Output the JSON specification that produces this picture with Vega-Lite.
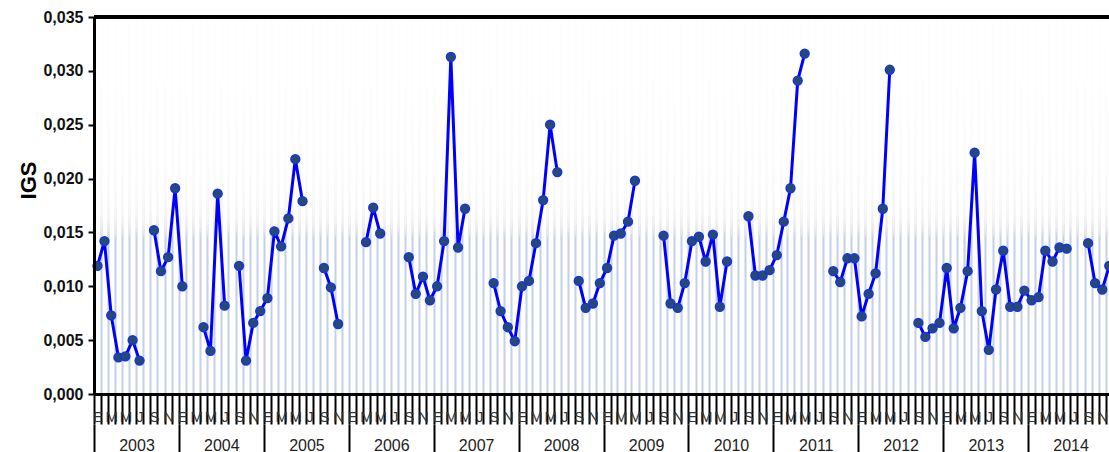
{
  "$schema": "https://vega.github.io/schema/vega-lite/v6.json",
  "width": 1015,
  "height": 377,
  "autosize": {"type": "none"},
  "padding": {"left": 94, "top": 17, "right": 0, "bottom": 58},
  "config": {
    "font": "Liberation Sans",
    "view": {"stroke": null}
  },
  "data": {
    "values": [
      {"fecha": "2003-01-16", "igs": 0.0119}, {"fecha": "2003-02-15", "igs": 0.0142}, {"fecha": "2003-03-16", "igs": 0.0073}, {"fecha": "2003-04-16", "igs": 0.0034},
      {"fecha": "2003-05-16", "igs": 0.0035}, {"fecha": "2003-06-16", "igs": 0.0050}, {"fecha": "2003-07-16", "igs": 0.0031}, {"fecha": "2003-08-16", "igs": null},
      {"fecha": "2003-09-16", "igs": 0.0152}, {"fecha": "2003-10-16", "igs": 0.0114}, {"fecha": "2003-11-16", "igs": 0.0127}, {"fecha": "2003-12-16", "igs": 0.0191},
      {"fecha": "2004-01-16", "igs": 0.0100}, {"fecha": "2004-02-15", "igs": null}, {"fecha": "2004-03-16", "igs": null}, {"fecha": "2004-04-16", "igs": 0.0062},
      {"fecha": "2004-05-16", "igs": 0.0040}, {"fecha": "2004-06-16", "igs": 0.0186}, {"fecha": "2004-07-16", "igs": 0.0082}, {"fecha": "2004-08-16", "igs": null},
      {"fecha": "2004-09-16", "igs": 0.0119}, {"fecha": "2004-10-16", "igs": 0.0031}, {"fecha": "2004-11-16", "igs": 0.0066}, {"fecha": "2004-12-16", "igs": 0.0077},
      {"fecha": "2005-01-16", "igs": 0.0089}, {"fecha": "2005-02-15", "igs": 0.0151}, {"fecha": "2005-03-16", "igs": 0.0137}, {"fecha": "2005-04-16", "igs": 0.0163},
      {"fecha": "2005-05-16", "igs": 0.0218}, {"fecha": "2005-06-16", "igs": 0.0179}, {"fecha": "2005-07-16", "igs": null}, {"fecha": "2005-08-16", "igs": null},
      {"fecha": "2005-09-16", "igs": 0.0117}, {"fecha": "2005-10-16", "igs": 0.0099}, {"fecha": "2005-11-16", "igs": 0.0065}, {"fecha": "2005-12-16", "igs": null},
      {"fecha": "2006-01-16", "igs": null}, {"fecha": "2006-02-15", "igs": null}, {"fecha": "2006-03-16", "igs": 0.0141}, {"fecha": "2006-04-16", "igs": 0.0173},
      {"fecha": "2006-05-16", "igs": 0.0149}, {"fecha": "2006-06-16", "igs": null}, {"fecha": "2006-07-16", "igs": null}, {"fecha": "2006-08-16", "igs": null},
      {"fecha": "2006-09-16", "igs": 0.0127}, {"fecha": "2006-10-16", "igs": 0.0093}, {"fecha": "2006-11-16", "igs": 0.0109}, {"fecha": "2006-12-16", "igs": 0.0087},
      {"fecha": "2007-01-16", "igs": 0.0100}, {"fecha": "2007-02-15", "igs": 0.0142}, {"fecha": "2007-03-16", "igs": 0.0313}, {"fecha": "2007-04-16", "igs": 0.0136},
      {"fecha": "2007-05-16", "igs": 0.0172}, {"fecha": "2007-06-16", "igs": null}, {"fecha": "2007-07-16", "igs": null}, {"fecha": "2007-08-16", "igs": null},
      {"fecha": "2007-09-16", "igs": 0.0103}, {"fecha": "2007-10-16", "igs": 0.0077}, {"fecha": "2007-11-16", "igs": 0.0062}, {"fecha": "2007-12-16", "igs": 0.0049},
      {"fecha": "2008-01-16", "igs": 0.0100}, {"fecha": "2008-02-15", "igs": 0.0105}, {"fecha": "2008-03-16", "igs": 0.0140}, {"fecha": "2008-04-16", "igs": 0.0180},
      {"fecha": "2008-05-16", "igs": 0.0250}, {"fecha": "2008-06-16", "igs": 0.0206}, {"fecha": "2008-07-16", "igs": null}, {"fecha": "2008-08-16", "igs": null},
      {"fecha": "2008-09-16", "igs": 0.0105}, {"fecha": "2008-10-16", "igs": 0.0080}, {"fecha": "2008-11-16", "igs": 0.0084}, {"fecha": "2008-12-16", "igs": 0.0103},
      {"fecha": "2009-01-16", "igs": 0.0117}, {"fecha": "2009-02-15", "igs": 0.0147}, {"fecha": "2009-03-16", "igs": 0.0149}, {"fecha": "2009-04-16", "igs": 0.0160},
      {"fecha": "2009-05-16", "igs": 0.0198}, {"fecha": "2009-06-16", "igs": null}, {"fecha": "2009-07-16", "igs": null}, {"fecha": "2009-08-16", "igs": null},
      {"fecha": "2009-09-16", "igs": 0.0147}, {"fecha": "2009-10-16", "igs": 0.0084}, {"fecha": "2009-11-16", "igs": 0.0080}, {"fecha": "2009-12-16", "igs": 0.0103},
      {"fecha": "2010-01-16", "igs": 0.0142}, {"fecha": "2010-02-15", "igs": 0.0146}, {"fecha": "2010-03-16", "igs": 0.0123}, {"fecha": "2010-04-16", "igs": 0.0148},
      {"fecha": "2010-05-16", "igs": 0.0081}, {"fecha": "2010-06-16", "igs": 0.0123}, {"fecha": "2010-07-16", "igs": null}, {"fecha": "2010-08-16", "igs": null},
      {"fecha": "2010-09-16", "igs": 0.0165}, {"fecha": "2010-10-16", "igs": 0.0110}, {"fecha": "2010-11-16", "igs": 0.0110}, {"fecha": "2010-12-16", "igs": 0.0115},
      {"fecha": "2011-01-16", "igs": 0.0129}, {"fecha": "2011-02-15", "igs": 0.0160}, {"fecha": "2011-03-16", "igs": 0.0191}, {"fecha": "2011-04-16", "igs": 0.0291},
      {"fecha": "2011-05-16", "igs": 0.0316}, {"fecha": "2011-06-16", "igs": null}, {"fecha": "2011-07-16", "igs": null}, {"fecha": "2011-08-16", "igs": null},
      {"fecha": "2011-09-16", "igs": 0.0114}, {"fecha": "2011-10-16", "igs": 0.0104}, {"fecha": "2011-11-16", "igs": 0.0126}, {"fecha": "2011-12-16", "igs": 0.0126},
      {"fecha": "2012-01-16", "igs": 0.0072}, {"fecha": "2012-02-15", "igs": 0.0093}, {"fecha": "2012-03-16", "igs": 0.0112}, {"fecha": "2012-04-16", "igs": 0.0172},
      {"fecha": "2012-05-16", "igs": 0.0301}, {"fecha": "2012-06-16", "igs": null}, {"fecha": "2012-07-16", "igs": null}, {"fecha": "2012-08-16", "igs": null},
      {"fecha": "2012-09-16", "igs": 0.0066}, {"fecha": "2012-10-16", "igs": 0.0053}, {"fecha": "2012-11-16", "igs": 0.0061}, {"fecha": "2012-12-16", "igs": 0.0066},
      {"fecha": "2013-01-16", "igs": 0.0117}, {"fecha": "2013-02-15", "igs": 0.0061}, {"fecha": "2013-03-16", "igs": 0.0080}, {"fecha": "2013-04-16", "igs": 0.0114},
      {"fecha": "2013-05-16", "igs": 0.0224}, {"fecha": "2013-06-16", "igs": 0.0077}, {"fecha": "2013-07-16", "igs": 0.0041}, {"fecha": "2013-08-16", "igs": 0.0097},
      {"fecha": "2013-09-16", "igs": 0.0133}, {"fecha": "2013-10-16", "igs": 0.0081}, {"fecha": "2013-11-16", "igs": 0.0081}, {"fecha": "2013-12-16", "igs": 0.0096},
      {"fecha": "2014-01-16", "igs": 0.0087}, {"fecha": "2014-02-15", "igs": 0.0090}, {"fecha": "2014-03-16", "igs": 0.0133}, {"fecha": "2014-04-16", "igs": 0.0123},
      {"fecha": "2014-05-16", "igs": 0.0136}, {"fecha": "2014-06-16", "igs": 0.0135}, {"fecha": "2014-07-16", "igs": null}, {"fecha": "2014-08-16", "igs": null},
      {"fecha": "2014-09-16", "igs": 0.0140}, {"fecha": "2014-10-16", "igs": 0.0103}, {"fecha": "2014-11-16", "igs": 0.0097}, {"fecha": "2014-12-16", "igs": 0.0119}
    ]
  },
  "layer": [
    {
      "description": "White wash that fades the month grid towards the top of the plot",
      "mark": {
        "type": "rect",
        "fill": {
          "gradient": "linear", "x1": 0, "y1": 0, "x2": 0, "y2": 1,
          "stops": [
            {"offset": 0, "color": "rgba(255,255,255,0.45)"},
            {"offset": 0.6, "color": "rgba(255,255,255,0)"}
          ]
        }
      },
      "encoding": {
        "y": {"datum": 0.035, "type": "quantitative", "scale": {"domain": [0, 0.035], "nice": false}},
        "y2": {"datum": 0}
      }
    },
    {
      "mark": {"type": "line", "color": "#0000ff", "strokeWidth": 3, "invalid": "break-paths-filter-domains"},
      "encoding": {
        "x": {
          "field": "fecha", "type": "temporal",
          "scale": {"type": "utc", "domain": ["2003-01-01", "2014-12-15"]},
          "axis": {
            "orient": "bottom",
            "title": null,
            "tickCount": {"interval": "month", "step": 1},
            "labelExpr": "utcmonth(datum.value) % 2 == 0 ? ['E','F','M','A','M','J','J','A','S','O','N','D'][utcmonth(datum.value)] : ''",
            "labelOverlap": false,
            "labelFlush": false,
            "labelBound": false,
            "labelAlign": "center",
            "labelBaseline": "middle",
            "labelOffset": 3.5,
            "labelPadding": -8,
            "labelFontSize": 15,
            "labelColor": "#333333",
            "tickColor": "#000000",
            "tickWidth": 2,
            "tickSize": 30,
            "domainColor": "#000000",
            "domainWidth": 3,
            "grid": true,
            "gridColor": "#c2d0e8",
            "gridWidth": 2,
            "zindex": 0
          }
        },
        "y": {
          "field": "igs", "type": "quantitative",
          "scale": {"domain": [0, 0.035], "nice": false},
          "axis": {
            "title": "IGS",
            "titleFontSize": 22,
            "titleFontWeight": "bold",
            "titleColor": "#000000",
            "titleAngle": 270,
            "titleAlign": "center",
            "titleBaseline": "middle",
            "titleX": -66,
            "titleY": 163,
            "values": [0, 0.005, 0.01, 0.015, 0.02, 0.025, 0.03, 0.035],
            "labelExpr": "replace(format(datum.value, '.3f'), '.', ',')",
            "labelFontSize": 16,
            "labelFontWeight": "bold",
            "labelColor": "#111111",
            "labelPadding": 5,
            "labelFlush": false,
            "tickColor": "#000000",
            "tickWidth": 2,
            "tickSize": 6,
            "domainColor": "#000000",
            "domainWidth": 3,
            "grid": false,
            "zindex": 1
          }
        }
      }
    },
    {
      "mark": {"type": "point", "filled": true, "fill": "#264a72", "stroke": "#1433e6", "strokeWidth": 1.5, "size": 78, "opacity": 1},
      "encoding": {
        "x": {
          "field": "fecha", "type": "temporal",
          "scale": {"type": "utc", "domain": ["2003-01-01", "2014-12-15"]},
          "axis": {
            "orient": "bottom",
            "title": null,
            "offset": 30,
            "domain": false,
            "grid": false,
            "tickCount": {"interval": "year", "step": 1},
            "labelExpr": "utcFormat(datum.value, '%Y')",
            "labelOverlap": false,
            "labelFlush": false,
            "labelBound": false,
            "labelAlign": "center",
            "labelBaseline": "middle",
            "labelOffset": 42.5,
            "labelPadding": -9,
            "labelFontSize": 16,
            "labelColor": "#222222",
            "tickColor": "#000000",
            "tickWidth": 2,
            "tickSize": 30
          }
        },
        "y": {"field": "igs", "type": "quantitative", "scale": {"domain": [0, 0.035], "nice": false}}
      }
    },
    {
      "description": "Top border of the plot",
      "mark": {"type": "rule", "color": "#000000", "strokeWidth": 3},
      "encoding": {"y": {"datum": 0.035, "type": "quantitative", "scale": {"domain": [0, 0.035], "nice": false}}}
    }
  ],
  "resolve": {"axis": {"x": "independent"}}
}
